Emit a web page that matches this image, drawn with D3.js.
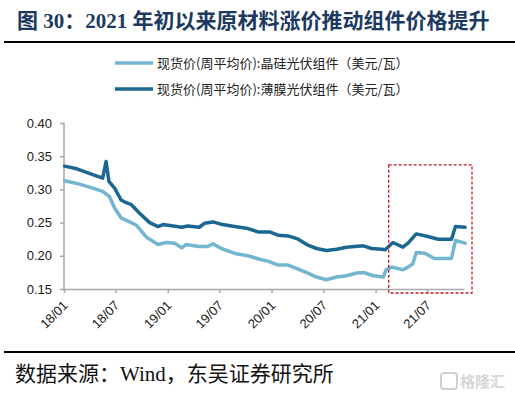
<!DOCTYPE html>
<html>
<head>
<meta charset="utf-8">
<script src="https://cdn.jsdelivr.net/npm/d3@7"></script>
<style>
  body { margin: 0; background: #fff; }
  svg { display: block; }
</style>
</head>
<body>
<div id="chart"></div>
<script>
// series (date, value)
const siDates = ["2018-01-03","2018-02-15","2018-04-12","2018-05-17","2018-06-10","2018-06-28","2018-07-21","2018-08-20","2018-09-13","2018-10-18","2018-11-28","2018-12-27","2019-01-26","2019-02-19","2019-03-06","2019-04-22","2019-05-21","2019-06-09","2019-07-08","2019-08-30","2019-10-10","2019-11-27","2019-12-19","2020-01-24","2020-02-28","2020-04-04","2020-05-08","2020-06-07","2020-07-12","2020-08-17","2020-09-21","2020-10-26","2020-11-19","2020-12-24","2021-01-28","2021-02-07","2021-02-27","2021-04-07","2021-04-25","2021-05-12","2021-05-24","2021-06-22","2021-07-27","2021-09-25","2021-10-09","2021-11-12"];
const siValues = [0.313,0.309,0.302,0.297,0.289,0.272,0.257,0.251,0.246,0.228,0.217,0.220,0.219,0.212,0.217,0.214,0.214,0.218,0.211,0.203,0.200,0.194,0.192,0.186,0.186,0.180,0.174,0.168,0.164,0.168,0.170,0.174,0.175,0.170,0.168,0.179,0.183,0.179,0.183,0.188,0.205,0.204,0.196,0.196,0.223,0.219];

const tfDates = ["2018-01-03","2018-02-15","2018-05-17","2018-05-29","2018-06-08","2018-06-28","2018-07-21","2018-08-08","2018-08-26","2018-09-24","2018-10-29","2018-11-28","2018-12-15","2019-02-19","2019-03-12","2019-04-22","2019-05-10","2019-06-09","2019-07-13","2019-08-24","2019-10-10","2019-11-15","2019-12-25","2020-01-24","2020-02-28","2020-04-04","2020-05-08","2020-06-07","2020-07-12","2020-08-17","2020-09-21","2020-10-20","2020-11-19","2020-12-18","2021-01-23","2021-02-04","2021-03-03","2021-04-07","2021-04-25","2021-05-24","2021-07-04","2021-08-09","2021-09-25","2021-10-09","2021-11-12"];
const tfValues = [0.335,0.331,0.317,0.342,0.312,0.302,0.284,0.280,0.277,0.264,0.250,0.244,0.247,0.243,0.245,0.243,0.249,0.251,0.247,0.244,0.241,0.236,0.236,0.231,0.230,0.225,0.216,0.211,0.208,0.210,0.213,0.214,0.215,0.211,0.210,0.209,0.220,0.213,0.219,0.233,0.229,0.225,0.225,0.244,0.243];

const yTicks = [0.15, 0.20, 0.25, 0.30, 0.35, 0.40];
const xTicks = ["2018-01-01","2018-07-01","2019-01-01","2019-07-01","2020-01-01","2020-07-01","2021-01-01","2021-07-01"];
const seriesNames = ["现货价(周平均价):晶硅光伏组件（美元/瓦）", "现货价(周平均价):薄膜光伏组件（美元/瓦）"];
const colors = ["#74b5d0", "#1b6791"];

const W = 515, H = 398;
const parse = d3.timeParse("%Y-%m-%d");

const svg = d3.select("#chart").append("svg")
    .attr("width", W)
    .attr("height", H);

// title
svg.append("text")
    .attr("x", 17).attr("y", 28)
    .attr("font-family", "'Liberation Serif', 'Noto Sans CJK SC', serif")
    .attr("font-weight", "bold")
    .attr("font-size", 21)
    .attr("fill", "#1c3a61")
    .text("图 30：2021 年初以来原材料涨价推动组件价格提升");
svg.append("line")
    .attr("x1", 4).attr("x2", W).attr("y1", 42).attr("y2", 42)
    .attr("stroke", "#000").attr("stroke-width", 2);

// scales
const x = d3.scaleTime()
    .domain([parse("2018-01-01"), parse("2021-11-08")])
    .range([64, 464]);
const y = d3.scaleLinear()
    .domain([0.15, 0.40])
    .range([289, 123]);

// axes
const yAxis = svg.append("g")
    .attr("transform", "translate(64,0)")
    .call(d3.axisLeft(y).tickValues(yTicks).tickFormat(d3.format(".2f")).tickSize(4).tickPadding(8));
const xAxis = svg.append("g")
    .attr("transform", "translate(0,289)")
    .call(d3.axisBottom(x).tickValues(xTicks.map(parse)).tickFormat(d3.timeFormat("%y/%m")).tickSize(4).tickSizeOuter(0));

[yAxis, xAxis].forEach(function (g) {
    g.select(".domain").attr("stroke", "#a6a6a6").attr("stroke-width", 1.5);
    g.selectAll(".tick line").attr("stroke", "#a6a6a6").attr("stroke-width", 1.5);
    g.selectAll("text")
        .attr("font-family", "'Liberation Sans', Arial, sans-serif")
        .attr("font-size", 13)
        .attr("fill", "#1a1a1a");
});
yAxis.select(".domain").attr("d", "M0,289V123");
xAxis.selectAll("text")
    .attr("text-anchor", "end")
    .attr("x", 0).attr("y", 0)
    .attr("dy", "0.35em")
    .attr("transform", "translate(1,14) rotate(-45)");

// lines
const line = d3.line()
    .x(function (d) { return x(d.date); })
    .y(function (d) { return y(d.value); });

const series = [
    siDates.map(function (d, i) { return { date: parse(d), value: siValues[i] }; }),
    tfDates.map(function (d, i) { return { date: parse(d), value: tfValues[i] }; })
];

series.forEach(function (s, i) {
    svg.append("path")
        .datum(s)
        .attr("fill", "none")
        .attr("stroke", colors[i])
        .attr("stroke-width", 3.5)
        .attr("stroke-linejoin", "round")
        .attr("stroke-linecap", "round")
        .attr("d", line);
});

// highlight box
const boxStart = parse("2021-02-16");
svg.append("rect")
    .attr("x", x(boxStart))
    .attr("y", y(0.337))
    .attr("width", 472 - x(boxStart))
    .attr("height", 293 - y(0.337))
    .attr("fill", "none")
    .attr("stroke", "#c0161c")
    .attr("stroke-width", 1.3)
    .attr("stroke-dasharray", "3,2");

// legend
const legend = svg.append("g");
seriesNames.forEach(function (name, i) {
    const ly = 63 + i * 26;
    legend.append("line")
        .attr("x1", 115).attr("x2", 153)
        .attr("y1", ly).attr("y2", ly)
        .attr("stroke", colors[i]).attr("stroke-width", 3.5);
    legend.append("text")
        .attr("x", 157).attr("y", ly)
        .attr("dy", "0.35em")
        .attr("font-family", "'Noto Sans CJK SC', sans-serif")
        .attr("font-size", 13)
        .attr("fill", "#222")
        .text(name);
});

// footer
svg.append("line")
    .attr("x1", 4).attr("x2", W).attr("y1", 352).attr("y2", 352)
    .attr("stroke", "#000").attr("stroke-width", 2);
svg.append("text")
    .attr("x", 15).attr("y", 381)
    .attr("font-family", "'Liberation Serif', 'Noto Sans CJK SC', serif")
    .attr("font-size", 21)
    .attr("fill", "#111")
    .text("数据来源：Wind，东吴证券研究所");

// watermark
svg.append("rect")
    .attr("x", 441).attr("y", 373).attr("width", 16).attr("height", 16)
    .attr("rx", 3)
    .attr("fill", "none").attr("stroke", "#d0d0d0").attr("stroke-width", 2);
svg.append("text")
    .attr("x", 460).attr("y", 387)
    .attr("font-family", "'Noto Sans CJK SC', sans-serif")
    .attr("font-size", 15)
    .attr("font-weight", "bold")
    .attr("fill", "#d6d6d6")
    .text("格隆汇");
</script>
</body>
</html>
